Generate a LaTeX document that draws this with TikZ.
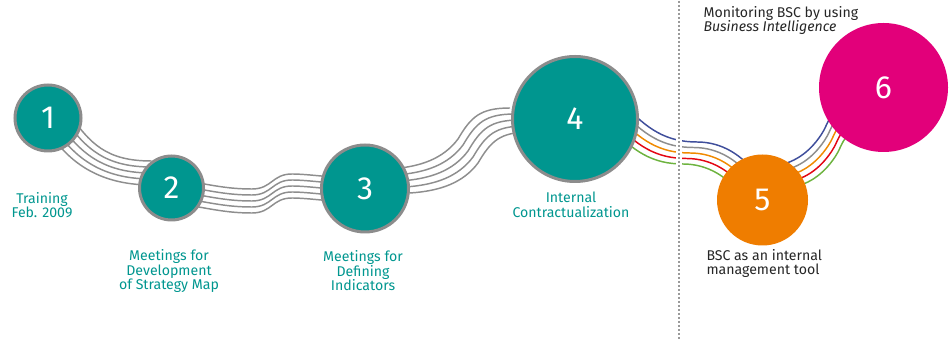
\documentclass[tikz,border=0pt]{standalone}
\usepackage{fontspec}
\setmainfont{Fira Sans}
\usetikzlibrary{calc,backgrounds}

\definecolor{tealstep}{HTML}{00968F}
\definecolor{rimgray}{HTML}{8C8C8C}
\definecolor{orangestep}{HTML}{EF7D00}
\definecolor{magentastep}{HTML}{E2007A}
\definecolor{wiregray}{HTML}{8E8E8E}
\definecolor{wblue}{HTML}{3F4E9B}
\definecolor{worange}{HTML}{F08A00}
\definecolor{wred}{HTML}{E30613}
\definecolor{wgreen}{HTML}{6DB33F}
\definecolor{dotgray}{HTML}{9A9A9A}

\tikzset{every picture/.style={line width=0.75pt}}
\tikzset{
  stage/.style={circle, inner sep=0pt, text=white, font=\fontsize{24}{24}\selectfont},
  tealstage/.style={stage, fill=tealstep, draw=rimgray, line width=2.25pt},
  wire/.style={draw=wiregray, line width=1.1pt},
  cwire/.style={line width=1.1pt},
  caption/.style={align=center, text=tealstep, font=\fontsize{10.6}{10.9}\selectfont, inner sep=0pt},
  note/.style={align=left, text=black!85, font=\fontsize{10.6}{10.9}\selectfont, inner sep=0pt, anchor=west},
}

\begin{document}
\begin{tikzpicture}[x=0.75pt,y=0.75pt,yscale=-1,xscale=1]
\path (0,0) rectangle (952,339); %set diagram size to 952 x 339

%Shape: Circle [stages]
\node[tealstage, minimum size=49.5pt] (c1) at (48,117) {1};
\node[tealstage, minimum size=48pt] (c2) at (171.5,187) {2};
\node[tealstage, minimum size=65.25pt] (c3) at (365,187.5) {3};
\node[tealstage, minimum size=93.75pt] (c4) at (575,118) {4};
\node[stage, fill=orangestep, minimum size=68.25pt] (c5) at (762.5,199) {5};
\node[stage, fill=magentastep, minimum size=96.75pt] (c6) at (883.5,86.5) {6};

% bends of the wire bundles
\coordinate (d23) at (252,200);
\coordinate (p23) at (292,185);
\coordinate (m34) at (468,150);
\coordinate (h45) at (690,152);
\coordinate (m56) at (828,145);
\coordinate (sepTop) at (679,0);
\coordinate (sepBot) at (679,339);
\coordinate (gapTop) at (679,128);
\coordinate (gapBot) at (679,172);

\begin{scope}[on background layer]
%Shape: Wires 1-2
\foreach \i in {-2,...,2}
  \draw[wire] ($(c1)+(12-4*\i,6+6*\i)$) .. controls +(22,32) and +(-45,0) .. ($(c2)+(-20,-15+6*\i)$);
%Shape: Wires 2-3
\foreach \i in {-2,...,2}
  \draw[wire] ($(c2)+(10,4+6*\i)$) .. controls +(30,5) and +(-25,0) .. ($(d23)+(0,6*\i)$)
    .. controls +(20,0) and +(-20,0) .. ($(p23)+(0,6*\i)$)
    .. controls +(15,0) and +(-15,0) .. ($(c3)+(-20,1+6*\i)$);
%Shape: Wires 3-4
\foreach \i in {-2,...,2}
  \draw[wire] ($(c3)+(35+5*\i,-7.5+6*\i)$) .. controls +(30,-2) and +(-15,20) .. ($(m34)+(5*\i,6*\i)$)
    .. controls +(13,-22) and +(-30,0) .. ($(c4)+(-55+5*\i,1+6*\i)$);
%Shape: Wires 4-5
\foreach \i/\col in {-2/wblue,-1/wiregray,0/worange,1/wred,2/wgreen}
  \draw[cwire, draw=\col] ($(c4)+(40-3.5*\i,-6+5.5*\i)$) .. controls +(25,28) and +(-30,0) .. ($(h45)+(-3.5*\i,5.5*\i)$)
    .. controls +(25,0) and +(-15,-20) .. ($(c5)+(-12.5-3.5*\i,-14+5.5*\i)$);
%Shape: Wires 5-6
\foreach \i/\col in {-2/wblue,-1/wiregray,0/worange,1/wred,2/wgreen}
  \draw[cwire, draw=\col] ($(c5)+(17.5+3.5*\i,-23+5.5*\i)$) .. controls +(20,-2) and +(-12,18) .. ($(m56)+(3.5*\i,5.5*\i)$)
    .. controls +(8,-12) and +(-20,15) .. ($(c6)+(-30+3.5*\i,25+5.5*\i)$);
%Shape: Separator
\draw[white, line width=4.5pt] (gapTop) -- (gapBot);
\draw[dotgray, line width=1.5pt, dash pattern=on 1.5pt off 1.5pt] (sepTop) -- (sepBot);
\end{scope}

% Text Node
\node[caption] (l1) at (42,204) {Training\\Feb. 2009};
% Text Node
\node[caption] (l2) at (169,270) {Meetings for\\Development\\of Strategy Map};
% Text Node
\node[caption] (l3) at (363,270) {Meetings for\\Defining\\Indicators};
% Text Node
\node[caption] (l4) at (571,204) {Internal\\Contractualization};
% Text Node
\node[note] (l5) at (706,262.5) {BSC as an internal\\management tool};
% Text Node
\node[note] (l6) at (703,19.5) {Monitoring BSC by using\\\textit{Business Intelligence}};
\end{tikzpicture}
\end{document}
